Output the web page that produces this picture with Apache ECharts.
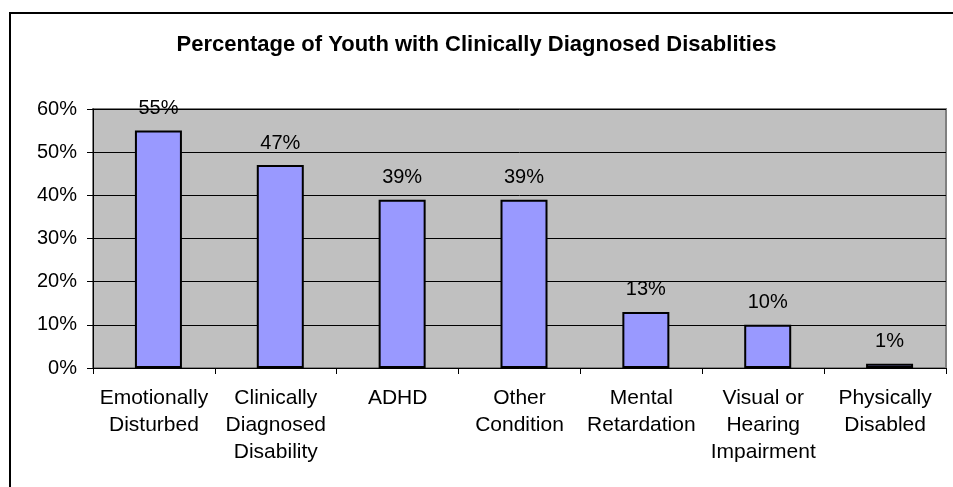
<!DOCTYPE html>
<html><head><meta charset="utf-8">
<script src="https://cdn.jsdelivr.net/npm/echarts@6/dist/echarts.min.js"></script>
<style>html,body{margin:0;padding:0;background:#fff}#c{width:953px;height:487px}</style>
</head><body><div id="c"></div>
<script>
const categories = ["Emotionally\nDisturbed","Clinically\nDiagnosed\nDisability","ADHD","Other\nCondition","Mental\nRetardation","Visual or\nHearing\nImpairment","Physically\nDisabled"];
const values = [55, 47, 39, 39, 13, 10, 1];
const yTicks = [0, 10, 20, 30, 40, 50, 60];
const titleText = "Percentage of Youth with Clinically Diagnosed Disablities";

const chart = echarts.init(document.getElementById('c'), null, {renderer:'canvas'});
const font = 'Arial, "Liberation Sans", sans-serif';
const yMin = yTicks[0], yMax = yTicks[yTicks.length-1], yStep = yTicks[1]-yTicks[0];
chart.setOption({
  animation:false,
  title:{text:titleText,left:'center',top:29,textStyle:{fontFamily:font,fontSize:22,fontWeight:'bold',color:'#000'}},
  graphic:[{type:'rect',shape:{x:10,y:13,width:960,height:500},style:{fill:'none',stroke:'#000',lineWidth:2},silent:true,z:-1}],
  grid:[
    {left:93,right:7,top:109,bottom:119,show:true,backgroundColor:'#c0c0c0',borderColor:'#808080',borderWidth:2},
    {left:97.5,right:2.5,top:109,bottom:119}
  ],
  xAxis:[
    {type:'category',data:categories,gridIndex:0,
      axisLine:{lineStyle:{color:'#000',width:1}},
      axisTick:{show:true,length:6,lineStyle:{color:'#000'}},
      axisLabel:{fontFamily:font,fontSize:21,color:'#000',lineHeight:27,margin:17,interval:0}},
    {type:'category',data:categories,gridIndex:1,show:false}
  ],
  yAxis:[
    {type:'value',min:yMin,max:yMax,interval:yStep,gridIndex:0,
      axisLine:{show:true,lineStyle:{color:'#000'}},
      axisTick:{show:true,length:6,lineStyle:{color:'#000'}},
      splitLine:{lineStyle:{color:'#000',width:1}},
      axisLabel:{fontFamily:font,fontSize:20,color:'#000',margin:16,formatter:v=>v+'%'}},
    {type:'value',min:yMin,max:yMax,interval:yStep,gridIndex:1,show:false,splitLine:{show:false}}
  ],
  series:[{type:'bar',data:values,xAxisIndex:1,yAxisIndex:1,barWidth:47,
    itemStyle:{color:'#9999ff',borderColor:'#000',borderWidth:2},
    label:{show:true,position:'top',distance:12,fontFamily:font,fontSize:20,color:'#000',formatter:p=>p.value+'%'}}]
});
</script></body></html>
